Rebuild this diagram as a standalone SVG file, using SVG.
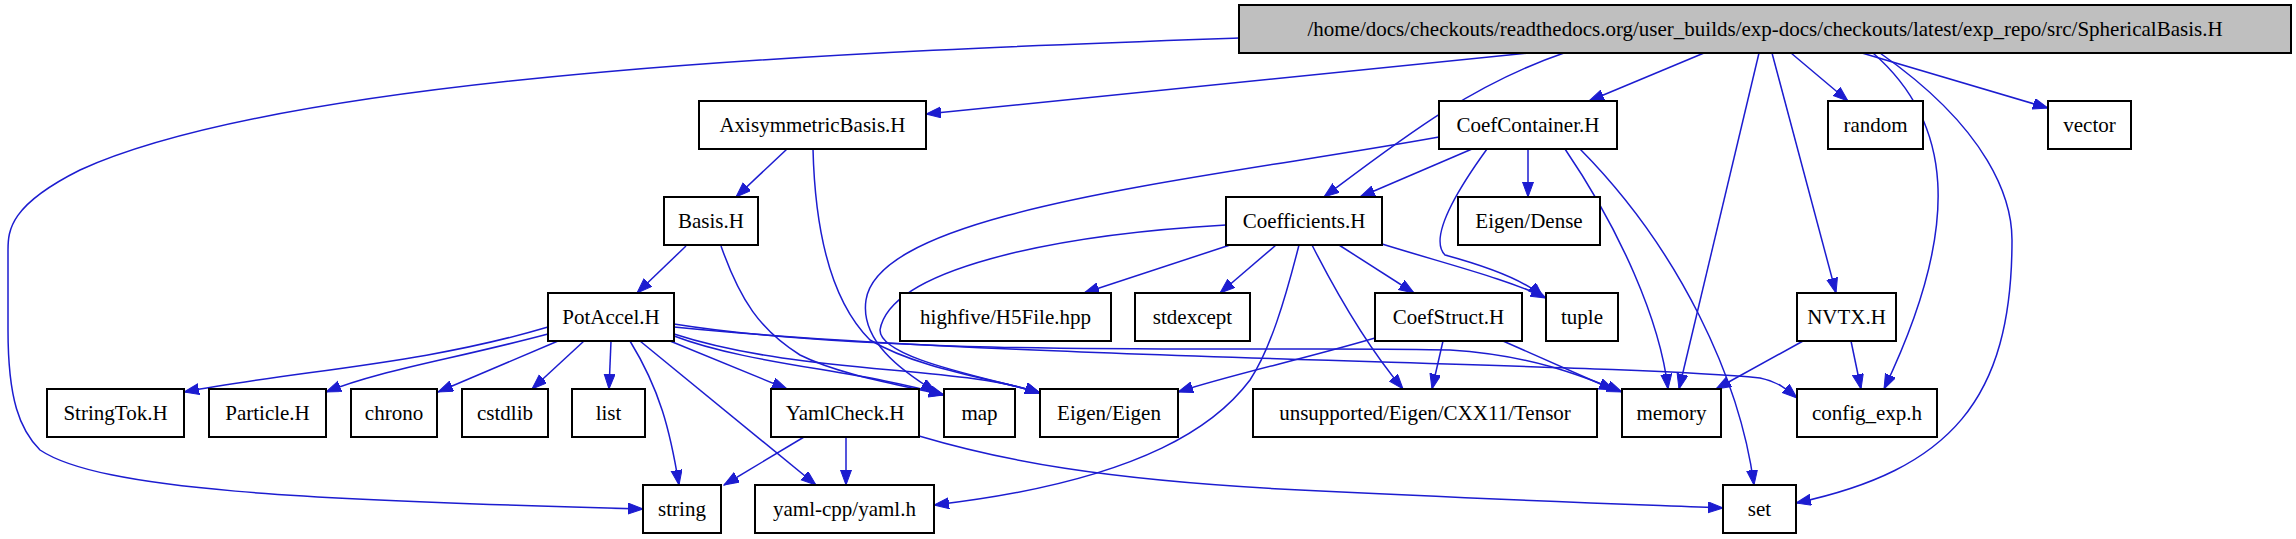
<svg xmlns="http://www.w3.org/2000/svg" width="2296" height="539" viewBox="0 0 2296 539">
<defs>
<style>
.n rect{fill:#fff;stroke:#000;stroke-width:2}
.n text{font-family:"Liberation Serif",serif;font-size:21px;text-anchor:middle;fill:#000}
.e path{fill:none;stroke:#1c1cd0;stroke-width:1.5}
</style>
<marker id="a" markerUnits="userSpaceOnUse" markerWidth="16" markerHeight="12" refX="15" refY="5.5" orient="auto"><path d="M0,0 L15,5.5 L0,11 Z" fill="#1c1cd0" stroke="#1c1cd0"/></marker>
</defs>
<rect width="2296" height="539" fill="#fff"/>
<g class="e" marker-end="url(#a)">
<path marker-end="url(#a)" d="M1239,38 C900,50 300,70 80,170 C10,205 8,230 8,250 L8,330 C8,400 20,430 40,450 C100,490 300,500 643,509"/>
<path marker-end="url(#a)" d="M1529,53 L926,114"/>
<path marker-end="url(#a)" d="M1564,53 C1470,85 1400,140 1324,197"/>
<path marker-end="url(#a)" d="M1704,53 L1589,101"/>
<path marker-end="url(#a)" d="M1759,53 L1679,389"/>
<path marker-end="url(#a)" d="M1791,53 L1848,101"/>
<path marker-end="url(#a)" d="M1772,53 L1836,293"/>
<path marker-end="url(#a)" d="M1873,53 C1950,120 1965,220 1884,389"/>
<path marker-end="url(#a)" d="M1880,53 C1990,130 2012,200 2012,240 C2012,400 1950,470 1796,503"/>
<path marker-end="url(#a)" d="M1862,53 L2048,108"/>
<path marker-end="url(#a)" d="M787,149 L736,197"/>
<path marker-end="url(#a)" d="M813,149 C815,230 830,300 870,340 C920,370 1000,380 1040,393"/>
<path marker-end="url(#a)" d="M686,246 L637,293"/>
<path marker-end="url(#a)" d="M721,246 C740,300 760,330 800,355 C840,375 900,385 944,395"/>
<path marker-end="url(#a)" d="M548,327 C420,365 300,370 184,392"/>
<path marker-end="url(#a)" d="M548,334 C450,360 380,370 326,392"/>
<path marker-end="url(#a)" d="M558,341 L438,392"/>
<path marker-end="url(#a)" d="M584,341 L532,389"/>
<path marker-end="url(#a)" d="M611,341 L609,389"/>
<path marker-end="url(#a)" d="M630,341 C660,390 670,430 679,485"/>
<path marker-end="url(#a)" d="M640,341 L816,485"/>
<path marker-end="url(#a)" d="M670,341 L787,389"/>
<path marker-end="url(#a)" d="M674,336 C750,365 860,370 944,395"/>
<path marker-end="url(#a)" d="M674,334 C800,375 960,365 1040,393"/>
<path marker-end="url(#a)" d="M674,324 C900,360 1300,345 1450,350 C1530,355 1580,375 1622,392"/>
<path marker-end="url(#a)" d="M674,327 C1000,360 1600,362 1760,378 C1780,382 1790,392 1797,398"/>
<path marker-end="url(#a)" d="M1439,137 C1200,180 880,210 866,300 C860,340 900,370 936,392"/>
<path marker-end="url(#a)" d="M1226,225 C1050,235 890,270 880,330 C880,360 1000,380 1040,393"/>
<path marker-end="url(#a)" d="M1230,245 L1084,293"/>
<path marker-end="url(#a)" d="M1276,245 L1220,293"/>
<path marker-end="url(#a)" d="M1299,245 C1285,300 1270,350 1250,380 C1220,420 1150,480 934,505"/>
<path marker-end="url(#a)" d="M1312,245 C1340,300 1370,350 1403,389"/>
<path marker-end="url(#a)" d="M1339,245 L1414,293"/>
<path marker-end="url(#a)" d="M1382,244 C1450,265 1510,280 1546,298"/>
<path marker-end="url(#a)" d="M1472,149 L1360,197"/>
<path marker-end="url(#a)" d="M1528,149 L1528,197"/>
<path marker-end="url(#a)" d="M1487,149 C1450,200 1430,240 1445,255 C1500,270 1530,285 1543,297"/>
<path marker-end="url(#a)" d="M1565,149 C1620,230 1660,320 1668,389"/>
<path marker-end="url(#a)" d="M1580,149 C1680,250 1740,380 1754,485"/>
<path marker-end="url(#a)" d="M1375,338 C1300,360 1230,375 1178,392"/>
<path marker-end="url(#a)" d="M1443,341 L1432,389"/>
<path marker-end="url(#a)" d="M1503,341 L1614,390"/>
<path marker-end="url(#a)" d="M1803,341 L1716,389"/>
<path marker-end="url(#a)" d="M1851,341 L1861,389"/>
<path marker-end="url(#a)" d="M804,437 L724,485"/>
<path marker-end="url(#a)" d="M846,437 L846,485"/>
<path marker-end="url(#a)" d="M919,436 C1000,460 1100,480 1300,490 C1500,500 1650,505 1723,508"/>
</g>
<g id="root" class="n"><rect x="1239" y="5" width="1052" height="48" style="fill:#bfbfbf"/><text x="1765" y="36">/home/docs/checkouts/readthedocs.org/user_builds/exp-docs/checkouts/latest/exp_repo/src/SphericalBasis.H</text></g>
<g id="axisym" class="n"><rect x="699" y="101" width="227" height="48"/><text x="812.5" y="132">AxisymmetricBasis.H</text></g>
<g id="coefcontainer" class="n"><rect x="1439" y="101" width="178" height="48"/><text x="1528" y="132">CoefContainer.H</text></g>
<g id="random" class="n"><rect x="1828" y="101" width="95" height="48"/><text x="1875.5" y="132">random</text></g>
<g id="vector" class="n"><rect x="2048" y="101" width="83" height="48"/><text x="2089.5" y="132">vector</text></g>
<g id="basis" class="n"><rect x="664" y="197" width="94" height="48"/><text x="711" y="228">Basis.H</text></g>
<g id="coefficients" class="n"><rect x="1226" y="197" width="156" height="48"/><text x="1304" y="228">Coefficients.H</text></g>
<g id="eigendense" class="n"><rect x="1458" y="197" width="142" height="48"/><text x="1529" y="228">Eigen/Dense</text></g>
<g id="potaccel" class="n"><rect x="548" y="293" width="126" height="48"/><text x="611" y="324">PotAccel.H</text></g>
<g id="highfive" class="n"><rect x="900" y="293" width="211" height="48"/><text x="1005.5" y="324">highfive/H5File.hpp</text></g>
<g id="stdexcept" class="n"><rect x="1135" y="293" width="115" height="48"/><text x="1192.5" y="324">stdexcept</text></g>
<g id="coefstruct" class="n"><rect x="1375" y="293" width="147" height="48"/><text x="1448.5" y="324">CoefStruct.H</text></g>
<g id="tuple" class="n"><rect x="1546" y="293" width="72" height="48"/><text x="1582" y="324">tuple</text></g>
<g id="nvtx" class="n"><rect x="1797" y="293" width="99" height="48"/><text x="1846.5" y="324">NVTX.H</text></g>
<g id="stringtok" class="n"><rect x="47" y="389" width="137" height="48"/><text x="115.5" y="420">StringTok.H</text></g>
<g id="particle" class="n"><rect x="209" y="389" width="117" height="48"/><text x="267.5" y="420">Particle.H</text></g>
<g id="chrono" class="n"><rect x="351" y="389" width="86" height="48"/><text x="394" y="420">chrono</text></g>
<g id="cstdlib" class="n"><rect x="462" y="389" width="86" height="48"/><text x="505" y="420">cstdlib</text></g>
<g id="list" class="n"><rect x="572" y="389" width="73" height="48"/><text x="608.5" y="420">list</text></g>
<g id="yamlcheck" class="n"><rect x="771" y="389" width="148" height="48"/><text x="845" y="420">YamlCheck.H</text></g>
<g id="map" class="n"><rect x="944" y="389" width="71" height="48"/><text x="979.5" y="420">map</text></g>
<g id="eigen" class="n"><rect x="1040" y="389" width="138" height="48"/><text x="1109" y="420">Eigen/Eigen</text></g>
<g id="tensor" class="n"><rect x="1253" y="389" width="344" height="48"/><text x="1425" y="420">unsupported/Eigen/CXX11/Tensor</text></g>
<g id="memory" class="n"><rect x="1622" y="389" width="99" height="48"/><text x="1671.5" y="420">memory</text></g>
<g id="config" class="n"><rect x="1797" y="389" width="140" height="48"/><text x="1867" y="420">config_exp.h</text></g>
<g id="string" class="n"><rect x="643" y="485" width="78" height="48"/><text x="682" y="516">string</text></g>
<g id="yamlcpp" class="n"><rect x="755" y="485" width="179" height="48"/><text x="844.5" y="516">yaml-cpp/yaml.h</text></g>
<g id="set" class="n"><rect x="1723" y="485" width="73" height="48"/><text x="1759.5" y="516">set</text></g>
</svg>
